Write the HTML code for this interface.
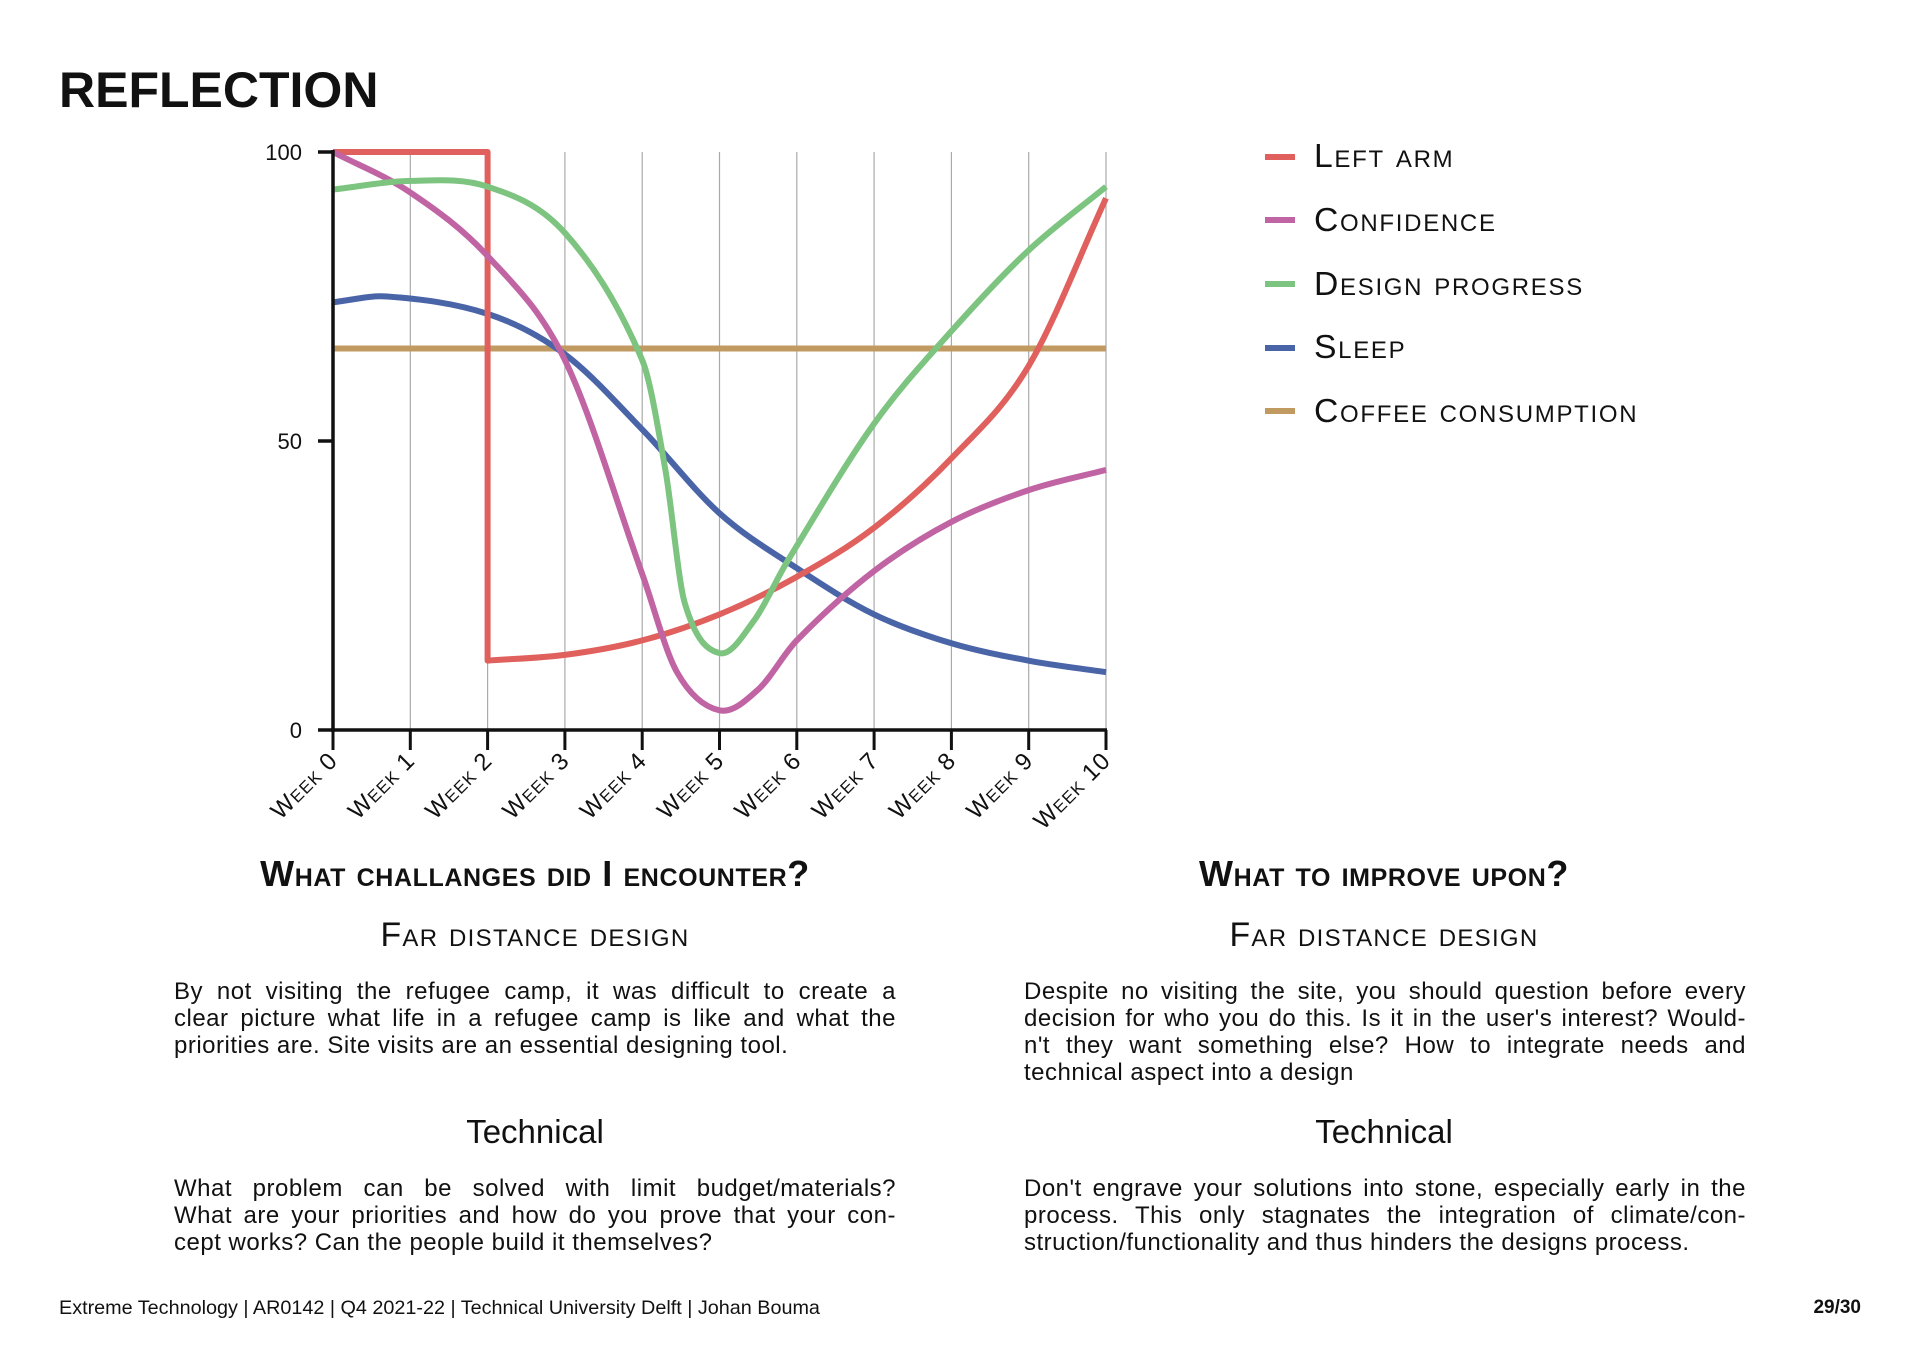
<!DOCTYPE html>
<html><head><meta charset="utf-8">
<style>
html,body{margin:0;padding:0;background:#fff;}
body{width:1920px;height:1357px;position:relative;overflow:hidden;font-family:"Liberation Sans",sans-serif;color:#111;}
.abs{position:absolute;}
.title{left:59px;top:61px;font-size:50px;font-weight:bold;}
.leg{position:absolute;left:1265px;width:30px;height:6px;}
.legt{position:absolute;left:1314px;font-size:33.7px;font-variant:small-caps;letter-spacing:1.7px;line-height:32px;}
.h{position:absolute;font-size:36px;font-weight:bold;font-variant:small-caps;text-align:center;width:900px;letter-spacing:0.6px;}
.s{position:absolute;font-size:33.8px;font-variant:small-caps;text-align:center;width:800px;letter-spacing:1.3px;}
.t{position:absolute;font-size:33px;text-align:center;width:800px;}
.p{position:absolute;width:722px;font-size:24px;line-height:27px;letter-spacing:0.5px;}
.p div{text-align:justify;text-align-last:justify;white-space:nowrap;}
.p div.l{text-align-last:left;}
.foot{left:59px;top:1297px;font-size:19.8px;}
.pg{right:59px;top:1297px;font-size:19px;font-weight:bold;}
</style></head><body>
<div class="abs title">REFLECTION</div>

<svg class="abs" style="left:0;top:0" width="1920" height="900" id="chart">
<g id="grid" stroke="#aaa" stroke-width="1.2"></g>
<g id="series" fill="none" stroke-width="6" stroke-linejoin="round"></g>
<g stroke="#111" stroke-width="3.5">
<line x1="333" y1="150" x2="333" y2="732"/>
<line x1="331" y1="730" x2="1107" y2="730"/>
<line x1="318" y1="152" x2="333" y2="152"/>
<line x1="318" y1="441" x2="333" y2="441"/>
<line x1="318" y1="730" x2="333" y2="730"/>
</g>
<g id="ticks" stroke="#111" stroke-width="3"></g>
<g font-family="Liberation Sans" font-size="22" fill="#111" text-anchor="end">
<text x="302" y="160">100</text>
<text x="302" y="449">50</text>
<text x="302" y="738">0</text>
</g>
<g id="xl" font-family="Liberation Sans" font-size="24" fill="#111" text-anchor="end" font-variant="small-caps" letter-spacing="1"></g>
</svg>

<div class="leg" style="top:154px;background:#e0605e"></div><div class="legt" style="top:140px">Left arm</div>
<div class="leg" style="top:217px;background:#c064a4"></div><div class="legt" style="top:204px">Confidence</div>
<div class="leg" style="top:281px;background:#7cc47f"></div><div class="legt" style="top:268px">Design progress</div>
<div class="leg" style="top:345px;background:#4a64a8"></div><div class="legt" style="top:331px">Sleep</div>
<div class="leg" style="top:408px;background:#c09a60"></div><div class="legt" style="top:395px">Coffee consumption</div>

<div class="h" style="left:85px;top:853px">What challanges did I encounter?</div>
<div class="h" style="left:934px;top:853px">What to improve upon?</div>
<div class="s" style="left:135px;top:916px">Far distance design</div>
<div class="s" style="left:984px;top:916px">Far distance design</div>

<div class="p" style="left:174px;top:978px">
<div>By not visiting the refugee camp, it was difficult to create a</div>
<div>clear picture what life in a refugee camp is like and what the</div>
<div class="l">priorities are. Site visits are an essential designing tool.</div>
</div>
<div class="p" style="left:1024px;top:978px">
<div>Despite no visiting the site, you should question before every</div>
<div>decision for who you do this. Is it in the user's interest? Would-</div>
<div>n't they want something else? How to integrate needs and</div>
<div class="l">technical aspect into a design</div>
</div>

<div class="t" style="left:135px;top:1113px">Technical</div>
<div class="t" style="left:984px;top:1113px">Technical</div>

<div class="p" style="left:174px;top:1175px">
<div>What problem can be solved with limit budget/materials?</div>
<div>What are your priorities and how do you prove that your con-</div>
<div class="l">cept works? Can the people build it themselves?</div>
</div>
<div class="p" style="left:1024px;top:1175px">
<div>Don't engrave your solutions into stone, especially early in the</div>
<div>process. This only stagnates the integration of climate/con-</div>
<div class="l">struction/functionality and thus hinders the designs process.</div>
</div>

<div class="abs foot">Extreme Technology | AR0142 | Q4 2021-22 | Technical University Delft | Johan Bouma</div>
<div class="abs pg">29/30</div>

<script>
var X=function(w){return 333+77.3*w;}, Y=function(v){return 730-5.78*v;};
var ns="http://www.w3.org/2000/svg";
var grid=document.getElementById('grid'),ticks=document.getElementById('ticks'),xl=document.getElementById('xl');
for(var i=0;i<=10;i++){
 var x=X(i);
 if(i>0){var l=document.createElementNS(ns,'line');l.setAttribute('x1',x);l.setAttribute('x2',x);l.setAttribute('y1',152);l.setAttribute('y2',730);grid.appendChild(l);}
 var t=document.createElementNS(ns,'line');t.setAttribute('x1',x);t.setAttribute('x2',x);t.setAttribute('y1',730);t.setAttribute('y2',750);ticks.appendChild(t);
 var tx=document.createElementNS(ns,'text');tx.setAttribute('transform','translate('+(x+6)+',762) rotate(-45)');tx.textContent='Week '+i;xl.appendChild(tx);
}
function sm(pts){
 var n=pts.length,m=[];
 for(var i=0;i<n;i++){
  var a=pts[Math.max(0,i-1)],b=pts[Math.min(n-1,i+1)];
  m[i]=(b[1]-a[1])/(b[0]-a[0]);
 }
 var d='M'+X(pts[0][0])+','+Y(pts[0][1]);
 for(var i=0;i<n-1;i++){
  var p=pts[i],q=pts[i+1],dx=(q[0]-p[0])/3;
  d+=' C'+X(p[0]+dx)+','+Y(p[1]+m[i]*dx)+' '+X(q[0]-dx)+','+Y(q[1]-m[i+1]*dx)+' '+X(q[0])+','+Y(q[1]);
 }
 return d;
}
var S=document.getElementById('series');
function add(d,col){var p=document.createElementNS(ns,'path');p.setAttribute('d',d);p.setAttribute('stroke',col);S.appendChild(p);}
add('M'+X(0)+','+Y(66)+' L'+X(10)+','+Y(66),'#c09a60');
add(sm([[0,74],[0.7,75],[2,72],[3,65],[4,52],[5,37.5],[6,28],[7,20],[8,15],[9,12],[10,10]]),'#4a64a8');
add('M'+X(0)+','+Y(100)+' L'+X(2)+','+Y(100)+' L'+X(2)+','+Y(12)+' '+sm([[2,12],[3,13],[4,15.5],[5,20],[6,26.5],[7,35],[8,47],[9,63],[10,92]]).replace(/^M[^ ]+/,'L'+X(2)+','+Y(12)),'#e0605e');
add(sm([[0,100],[1,93],[2,82],[3,64],[4,27],[4.45,10],[5,3.4],[5.5,7],[6,15.5],[7,27.5],[8,36],[9,41.5],[10,45]]),'#c064a4');
add(sm([[0,93.5],[1,95],[2,94],[3,86],[4,64],[4.3,45],[4.55,22],[5,13.3],[5.45,19],[5.87,29],[7,53],[8,69],[9,83],[10,94]]),'#7cc47f');
</script>
</body></html>
